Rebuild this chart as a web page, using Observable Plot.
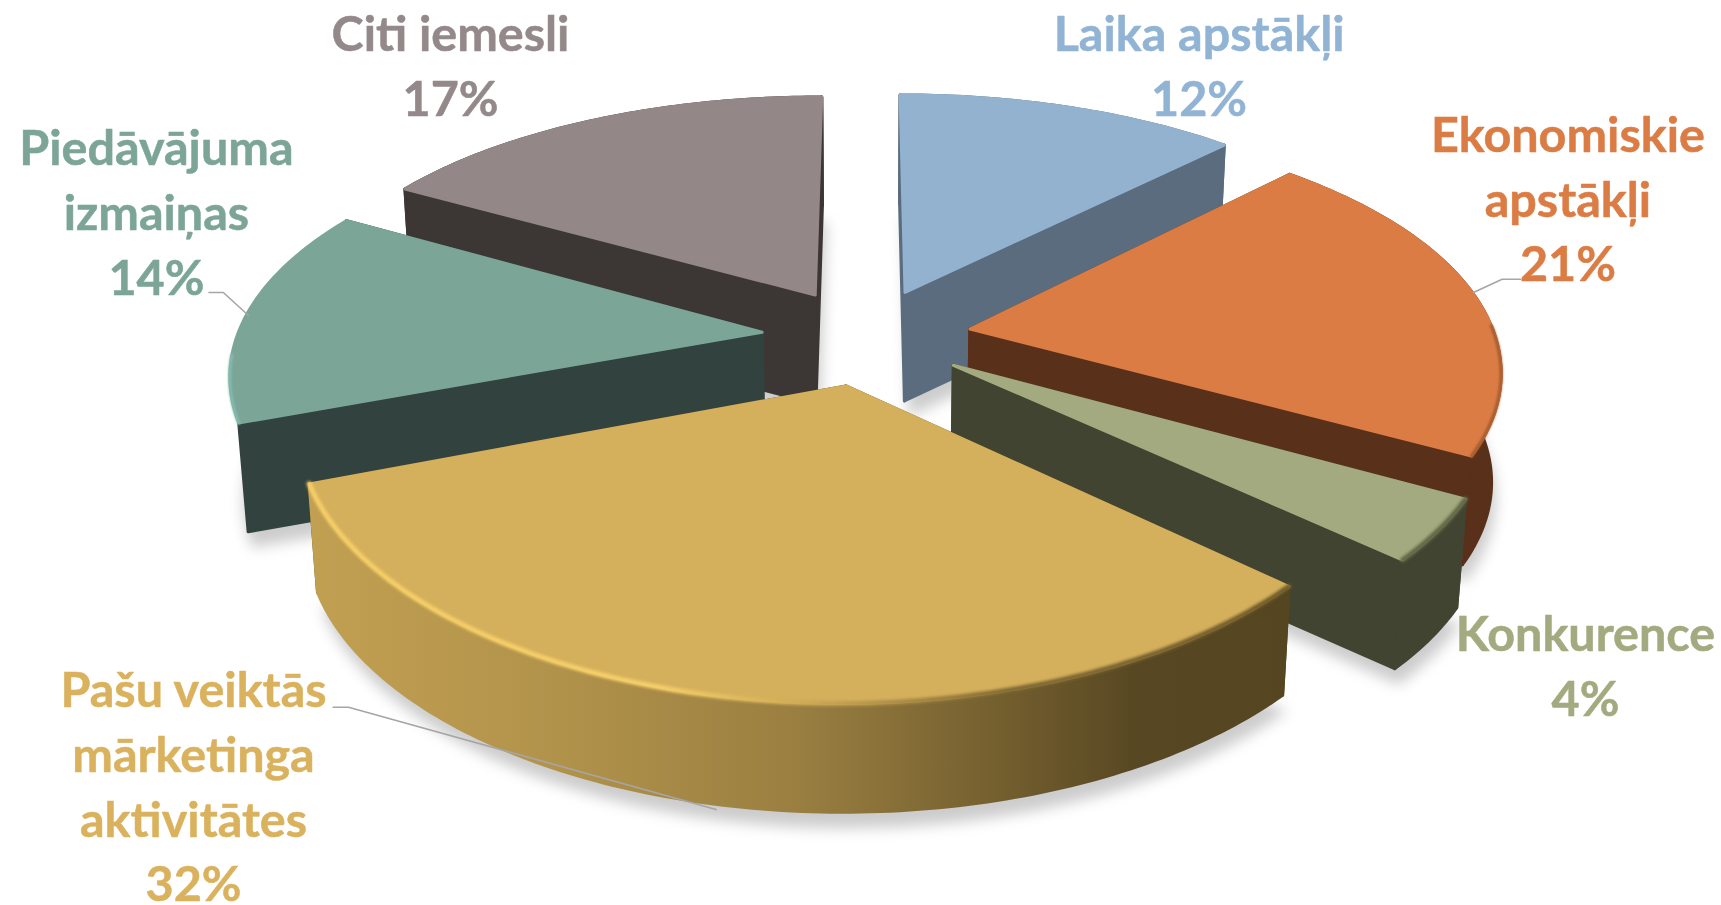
<!DOCTYPE html>
<html lang="lv">
<head>
<meta charset="utf-8">
<script src="https://cdn.jsdelivr.net/npm/d3@7"></script>
<script src="https://cdn.jsdelivr.net/npm/@observablehq/plot@0.6"></script>
<style>html,body{margin:0;padding:0;background:#fff;overflow:hidden}svg{display:block}</style>
</head>
<body>
<div id="chart"></div>
<script>
// ---- data
const categories = ["Laika apstākļi","Ekonomiskie\napstākļi","Konkurence","Pašu veiktās\nmārketinga\naktivitātes","Piedāvājuma\nizmaiņas","Citi iemesli"];
const percentLabels = [12,21,4,32,14,17];
// slice sizes (they round to the printed percentages)
const shares = [12.3,20.7,3.8,32.49,14.0,16.71];
// ---- styles
const topColors  = ["#92b2cf","#db7c45","#a3aa7f","#d5b05c","#7ba597","#938887"];
const sideColors = ["#5a6c7e","#59301a","#414431","#55461f","#32423f","#3c3635"];
const textColors = ["#92b4d4","#dc7c45","#a3aa7f","#dab25e","#7ca598","#94898a"];
const paintOrder = [0,5,1,4,2,3];
// ---- label layout
const labelX = [1198.6,1567.4,1585,193,155.9,450];
const labelY = [62.6,195.4,662.4,783,208.5,62];
const leaderX = [[1473,1501.6,1520],[248,222.8,208.5],[715.6,348,332.6]];
const leaderY = [[292,278.8,278.8],[315,292,292],[809,706.8,706.8]];
// ---- view of the 3-D pie
const W = 1721, H = 905;
const view = {cx:866, cy:335.7, a:525, b:244.6, px:.15, py:.17, depth:108.7, shrink:.985, burst:.2};
const total = d3.sum(shares);
const ends = Array.from(d3.cumsum(shares));
const toAngle = v => v / total * 2 * Math.PI;

function project(X, Y, low) {
  let x = view.cx + view.a * X / (1 + view.px * Y);
  let y = view.cy - view.b * Y / (1 + view.py * Y);
  if (low) { x = view.cx + (x - view.cx) * view.shrink; y += view.depth; }
  return {x, y, Y};
}
const slices = shares.map((s, i) => {
  const a0 = toAngle(ends[i] - s), a1 = toAngle(ends[i]), m = (a0 + a1) / 2;
  const ox = view.burst * Math.sin(m), oy = view.burst * Math.cos(m);
  const n = Math.max(8, Math.round(s * 4));
  const rim = d3.range(n + 1).map(k => {
    const t = a0 + (a1 - a0) * k / n;
    return [ox + Math.sin(t), oy + Math.cos(t)];
  });
  return {i, ox, oy, rim, a0, a1};
});
const P = (pts, low) => pts.map(p => project(p[0], p[1], low));
const closed = pts => [...pts, pts[0]];
const meanY = pts => d3.mean(pts, p => p.Y);
const rimFill = i => i === 3 ? "url(#goldRim)" : sideColors[i];

const face = (pts, fill, extra = {}) =>
  Plot.line(closed(pts), {x:"x", y:"y", fill, stroke:fill, strokeWidth:1.5, strokeLinejoin:"round", ...extra});

const marks = [];
// soft floor shadows
for (const s of slices) {
  const apex = [s.ox, s.oy];
  const pts = P([apex, ...s.rim], true).map(p => ({x:p.x + 4, y:p.y + 16}));
  marks.push(Plot.line(closed(pts), {x:"x", y:"y", fill:"#000", fillOpacity:.2, stroke:"none", imageFilter:"blur(7px)"}));
}
// slices, back to front
for (const idx of paintOrder) {
  const s = slices[idx], apex = [s.ox, s.oy];
  const first = s.rim[0], last = s.rim[s.rim.length - 1];
  const sides = [
    {pts:[...P([apex, first]), ...P([first, apex], true)], fill:sideColors[idx]},
    {pts:[...P([apex, last]),  ...P([last, apex], true)],  fill:sideColors[idx]}
  ];
  // the reference shows no outer wall under the Piedāvājuma slice
  if (idx !== 4) sides.push({pts:[...P(s.rim), ...P([...s.rim].reverse(), true)], fill:rimFill(idx)});
  sides.sort((p, q) => meanY(q.pts) - meanY(p.pts));
  for (const f of sides) marks.push(face(f.pts, f.fill, {strokeWidth:3}));
  marks.push(face(P([apex, ...s.rim]), topColors[idx], {strokeWidth:3}));
  // rounded rim bevels
  const part = (f0, f1) => s.rim.slice(Math.round(f0 * (s.rim.length - 1)), Math.round(f1 * (s.rim.length - 1)) + 1);
  const bevel = (f0, f1, stroke, width, blur) => marks.push(Plot.line(P(part(f0, f1)), {x:"x", y:"y", stroke, strokeWidth:width, imageFilter:`blur(${blur}px)`}));
  if (idx === 3) bevel(0, 1, "url(#goldBevel)", 5, 1.4);
  if (idx === 2) bevel(0, 1, "#5f6344", 5, 1.5);
  if (idx === 1) bevel(.6, 1, "#a0592c", 3, 1.2);
  if (idx === 4) bevel(0, .3, "#85bdb0", 3, .8);
}
// leader lines
leaderX.forEach((xs, k) => marks.push(Plot.line(xs.map((x, j) => ({x, y:leaderY[k][j]})), {x:"x", y:"y", stroke:"#a6a6a6", strokeWidth:1.6})));
// labels
const labels = categories.map((c, i) => ({text:`${c}\n${percentLabels[i]}%`, x:labelX[i], y:labelY[i], color:textColors[i]}));
marks.push(Plot.text(labels, {x:"x", y:"y", text:"text", fill:d => d.color, stroke:d => d.color, strokeWidth:.5, fontSize:48.5, fontWeight:700, fontFamily:"Lato", lineHeight:1.336, textAnchor:"middle", lineAnchor:"middle"}));

const chart = Plot.plot({
  width:W, height:H, margin:0,
  x:{domain:[0,W], range:[0,W], axis:null},
  y:{domain:[0,H], range:[0,H], axis:null},
  color:{type:"identity"},
  style:{background:"#fff"},
  marks
});
const defs = d3.select(chart).insert("defs", ":first-child");
function gradient(id, x1, x2, stops) {
  const g = defs.append("linearGradient").attr("id", id).attr("gradientUnits","userSpaceOnUse")
    .attr("x1", x1).attr("x2", x2).attr("y1", 0).attr("y2", 0);
  stops.forEach(([o, c]) => g.append("stop").attr("offset", o).attr("stop-color", c));
}
gradient("goldRim", 305, 1285, [[0,"#c2a052"],[.25,"#b2934b"],[.5,"#9a7f41"],[.7,"#75602f"],[.85,"#574722"],[1,"#554520"]]);
gradient("goldBevel", 305, 1285, [[0,"#f6ce68"],[.36,"#f6d06a"],[.52,"#c9a655"],[.72,"#7d6632"],[1,"#6b5828"]]);
document.getElementById("chart").append(chart);
</script>
</body>
</html>
